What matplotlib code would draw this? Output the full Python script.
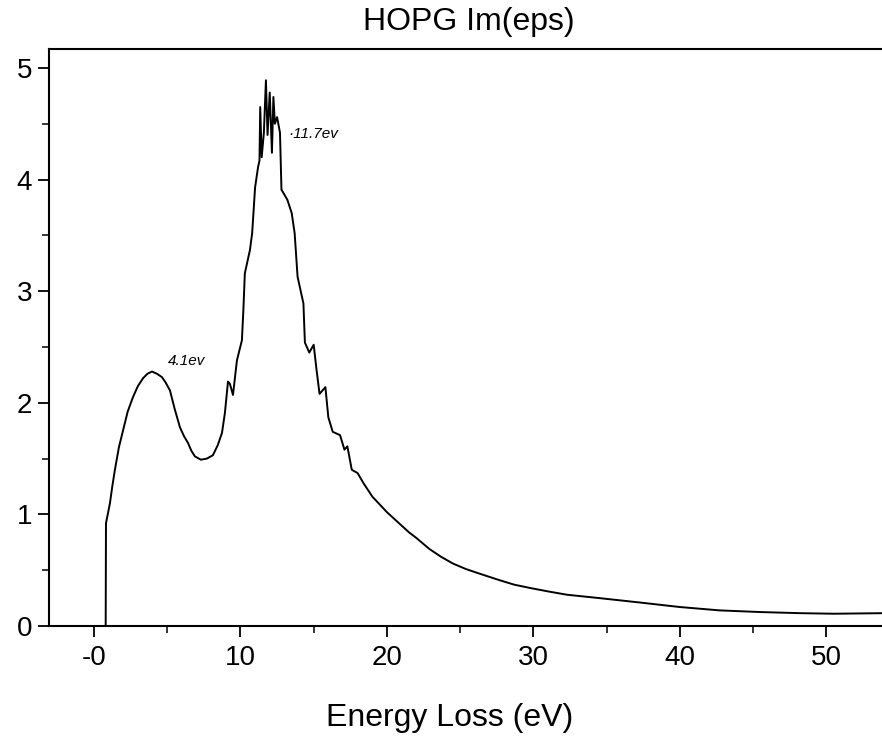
import numpy as np
import matplotlib
matplotlib.use("Agg")
import matplotlib.pyplot as plt
from matplotlib.ticker import FixedLocator, FixedFormatter, MultipleLocator

# === DATA ===
energy = [-3.1, 0.80, 0.82, 1.09, 1.25, 1.43, 1.7, 2.0, 2.3, 2.66, 3.0, 3.35,
          3.65, 3.96, 4.3, 4.64, 4.9, 5.19, 5.5, 5.87, 6.15, 6.42, 6.65, 6.89,
          7.3, 7.71, 8.12, 8.45, 8.74, 8.94, 9.15, 9.28, 9.49, 9.76, 10.1,
          10.2, 10.3, 10.65, 10.8, 11.0, 11.2, 11.3, 11.35, 11.45, 11.6, 11.74,
          11.85, 12.0, 12.15, 12.25, 12.35, 12.5, 12.7, 12.8, 13.2, 13.5, 13.7,
          13.9, 14.3, 14.4, 14.7, 15.0, 15.2, 15.4, 15.6, 15.8, 16.0, 16.3,
          16.8, 17.1, 17.3, 17.6, 18.0, 18.4, 19.0, 19.5, 20.0, 20.5, 21.0,
          21.5, 22.0, 22.9, 23.7, 24.5, 25.4, 26.3, 27.7, 28.7, 29.8, 31.0,
          32.3, 34.5, 37.3, 40.0, 42.7, 45.5, 48.2, 50.5, 53.9]
im_eps = [0.0, 0.0, 0.92, 1.10, 1.25, 1.40, 1.60, 1.76, 1.92, 2.05, 2.15, 2.22,
          2.26, 2.28, 2.26, 2.23, 2.18, 2.11, 1.95, 1.78, 1.70, 1.64, 1.57, 1.52,
          1.49, 1.50, 1.53, 1.62, 1.73, 1.91, 2.19, 2.17, 2.07, 2.38, 2.56,
          2.83, 3.16, 3.37, 3.52, 3.93, 4.11, 4.17, 4.65, 4.20, 4.42, 4.89,
          4.40, 4.78, 4.24, 4.74, 4.50, 4.56, 4.42, 3.91, 3.82, 3.70, 3.52,
          3.13, 2.89, 2.54, 2.45, 2.52, 2.29, 2.08, 2.11, 2.14, 1.87, 1.74,
          1.71, 1.58, 1.61, 1.40, 1.37, 1.28, 1.16, 1.09, 1.02, 0.96, 0.90,
          0.84, 0.79, 0.69, 0.62, 0.56, 0.51, 0.47, 0.41, 0.37, 0.34, 0.31,
          0.28, 0.25, 0.21, 0.17, 0.14, 0.125, 0.115, 0.11, 0.115]

x_ticks = [0, 10, 20, 30, 40, 50]
x_labels = ["-0", "10", "20", "30", "40", "50"]
y_ticks = [0, 1, 2, 3, 4, 5]

peak_labels = ["4.1ev", "\u00b711.7ev"]
peak_pos = [(5.05, 2.37), (13.3, 4.41)]

# === PLOT ===
plt.rcParams['font.family'] = ['Liberation Sans', 'DejaVu Sans']

fig = plt.figure(figsize=(8.82, 7.44), dpi=100)
ax = fig.add_axes([49/882, 118/744, 833/882, 577/744])

ax.plot(energy, im_eps, color="black", linewidth=1.4)

ax.set_xlim(-3.07, 53.8)
ax.set_ylim(0, 5.17)

ax.spines["right"].set_visible(False)
for s in ["left", "bottom", "top"]:
    ax.spines[s].set_linewidth(1.5)

ax.xaxis.set_major_locator(FixedLocator(x_ticks))
ax.xaxis.set_major_formatter(FixedFormatter(x_labels))
ax.xaxis.set_minor_locator(MultipleLocator(5))
ax.yaxis.set_major_locator(FixedLocator(y_ticks))
ax.yaxis.set_minor_locator(MultipleLocator(0.5))

ax.tick_params(axis="both", which="major", direction="out", length=8,
               width=1.3, labelsize=20, top=False, right=False)
ax.tick_params(axis="both", which="minor", direction="out", length=5,
               width=1.1, top=False, right=False)
ax.tick_params(axis="x", which="major", pad=6)
ax.tick_params(axis="y", which="major", pad=4)

for txt, (px, py) in zip(peak_labels, peak_pos):
    ax.text(px, py, txt, fontsize=11, style="italic", va="center", ha="left")

ax.set_xlabel("Energy Loss (eV)", fontsize=23)
ax.xaxis.set_label_coords(0.481, -0.134)

fig.text(469/882, 1 - 22/744, "HOPG Im(eps)", fontsize=23,
         ha="center", va="center")

plt.savefig("out.png", dpi=100)
plt.close()
